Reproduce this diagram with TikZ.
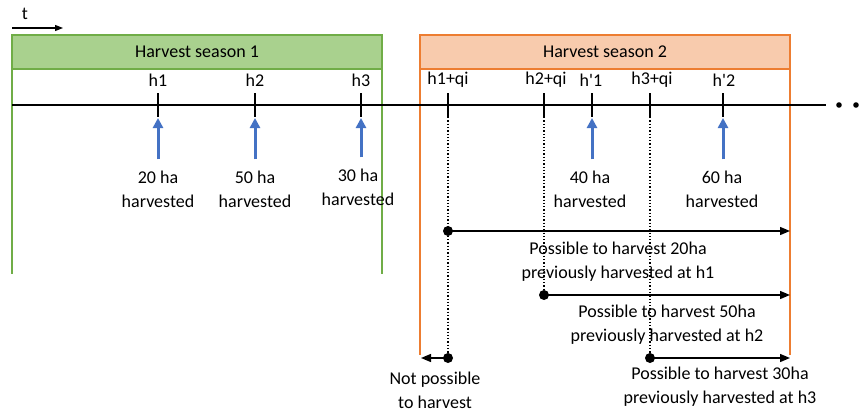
\documentclass[tikz,border=0pt]{standalone}
\usepackage{fontspec}
\setmainfont{Carlito}
\usetikzlibrary{arrows.meta,calc}
\definecolor{gfill}{HTML}{A9D18E}
\definecolor{gline}{HTML}{70AD47}
\definecolor{ofill}{HTML}{F8CBAD}
\definecolor{oline}{HTML}{ED7D31}
\definecolor{barrow}{HTML}{4472C4}
\begin{document}
\begin{tikzpicture}[x=1pt,y=-1pt,
  lbl/.style={font=\fontsize{18}{24}\selectfont, align=center, inner sep=0pt},
  tickline/.style={line width=1.4pt},
  bluearrow/.style={draw=barrow, line width=3pt, -{Triangle[length=10pt,width=10pt]}},
  harrow/.style={line width=1.4pt, -{Triangle[length=10pt,width=8pt]}},
  dotline/.style={dotted, line width=1.3pt},
  dotmark/.style={circle, fill=black, minimum size=10pt, inner sep=0pt},
  gbox/.style={draw=gline, fill=gfill, line width=1.3pt},
  obox/.style={draw=oline, fill=ofill, line width=1.3pt},
]
\useasboundingbox (0,0) rectangle (865,412);

% time arrow
\node[lbl] (tl) at (25,14) {t};
\coordinate (ta) at (12,28);
\coordinate (tb) at (63,28);
\draw[line width=1.3pt, -{Triangle[length=8pt,width=6pt]}] (ta) -- (tb);

% season boxes
\draw[gline, line width=1.3pt] (12,69) -- (12,274) (382,69) -- (382,274);
\draw[oline, line width=1.3pt] (420,69) -- (420,355) (790,69) -- (790,355);
\draw[gbox] (12,35) rectangle (382,69);
\node[lbl] (s1) at (197,52) {Harvest season 1};
\draw[obox] (420,35) rectangle (790,69);
\node[lbl] (s2) at (605,52) {Harvest season 2};

% timeline
\coordinate (tlA) at (12,105);
\coordinate (tlB) at (826,105);
\draw[line width=1.3pt] (tlA) -- (tlB);
\fill (839,105) circle (2.8pt);
\fill (856,105) circle (2.8pt);

% tick positions
\coordinate (h1) at (158,105);
\coordinate (h2) at (255,105);
\coordinate (h3) at (361,105);
\coordinate (q1) at (448,105);
\coordinate (q2) at (544,105);
\coordinate (p1) at (592,105);
\coordinate (q3) at (650,105);
\coordinate (p2) at (723,105);
\foreach \c in {h1,h2,h3,q1,q2,p1,q3,p2}
  \draw[tickline] ($(\c)+(0,-12)$) -- ($(\c)+(0,12)$);

% tick labels
\node[lbl] (lh1) at (158,80) {h1};
\node[lbl] (lh2) at (255,80) {h2};
\node[lbl] (lh3) at (361,80) {h3};
\node[lbl] (lq1) at (448,80) {h1+qi};
\node[lbl] (lq2) at (546,80) {h2+qi};
\node[lbl] (lp1) at (591,80) {h\textquotesingle 1};
\node[lbl] (lq3) at (652,80) {h3+qi};
\node[lbl] (lp2) at (724,80) {h\textquotesingle 2};

% harvest amounts
\node[lbl] (a1) at (158,189) {20 ha\\harvested};
\node[lbl] (a2) at (255,189) {50 ha\\harvested};
\node[lbl] (a3) at (358,187) {30 ha\\harvested};
\node[lbl] (a4) at (590,189) {40 ha\\harvested};
\node[lbl] (a5) at (722,189) {60 ha\\harvested};
\foreach \c/\n in {h1/a1,h2/a2,h3/a3,p1/a4,p2/a5}
  \draw[bluearrow] (\n.north -| \c) ++(0,-11) coordinate (tmp) -- ($(\c)+(0,13)$);

% dotted drops
\node[dotmark] (d1) at (448,231) {};
\node[dotmark] (d2) at (544,295) {};
\node[dotmark] (d3) at (650,358) {};
\node[dotmark] (d0) at (448,358) {};
\draw[dotline] ($(q1)+(0,12)$) -- (d0.center);
\draw[dotline] ($(q2)+(0,12)$) -- (d2.center);
\draw[dotline] ($(q3)+(0,12)$) -- (d3.center);

% horizontal arrows
\coordinate (e1) at (790,231);
\coordinate (e2) at (790,295);
\coordinate (e3) at (790,358);
\coordinate (e0) at (421,358);
\draw[harrow] (d1.center) -- (e1);
\draw[harrow] (d2.center) -- (e2);
\draw[harrow] (d3.center) -- (e3);
\draw[harrow] (d0.center) -- (e0);

% range labels
\node[lbl] (r1) at (618,262) {Possible to harvest 20ha\\previously harvested at h1};
\node[lbl] (r2) at (667,325) {Possible to harvest 50ha\\previously harvested at h2};
\node[lbl] (r3) at (720,387) {Possible to harvest 30ha\\previously harvested at h3};
\node[lbl] (r0) at (435,390) {Not possible\\to harvest};
\end{tikzpicture}
\end{document}
